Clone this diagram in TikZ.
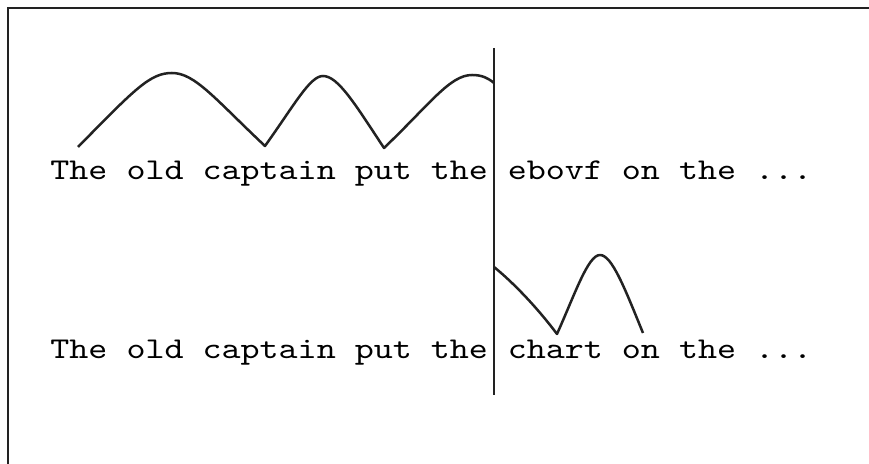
\documentclass[tikz,border=0pt]{standalone}
\usepackage{fontspec}
\setmonofont[FakeStretch=1.2]{lmmono10-regular.otf}
\usetikzlibrary{positioning}
\definecolor{InkGray}{RGB}{34,34,34}

\begin{document}
\begin{tikzpicture}[x=0.5pt, y=0.5pt, every node/.style={font=\ttfamily\fontsize{15.1}{18}\selectfont, inner sep=0pt},
    wave/.style={line width=1.25pt, InkGray, line join=round}]
  \useasboundingbox (0,0) rectangle (869,464);
  \draw[line width=1pt, InkGray] (8,0) -- (8,456) -- (869,456);
  \node[anchor=base west] (pre1) at (50,284) {The old captain put the};
  \node[base right=9.5pt of pre1] (post1) {ebovf on the ...};
  \node[anchor=base west] (pre2) at (50,105) {The old captain put the};
  \node[base right=9.5pt of pre2] (post2) {chart on the ...};
  \coordinate (cuttop) at (494,416);
  \coordinate (cutbot) at (494,69);
  \draw[line width=1pt, InkGray] (cuttop) -- (cutbot);
  \draw[wave] (78,317) .. controls (135,375) and (150,391) .. (172,391)
    .. controls (195,391) and (215,365) .. (265,318)
    .. controls (295,360) and (310,388) .. (323,388)
    .. controls (338,388) and (355,360) .. (384,316)
    .. controls (430,360) and (450,389) .. (472,389)
    .. controls (482,389) and (488,386) .. (494,381);
  \draw[wave] (494,197) .. controls (515,180) and (539,154) .. (557,130)
    .. controls (575,170) and (588,209) .. (600,209)
    .. controls (612,209) and (625,175) .. (643,131);
\end{tikzpicture}
\end{document}
